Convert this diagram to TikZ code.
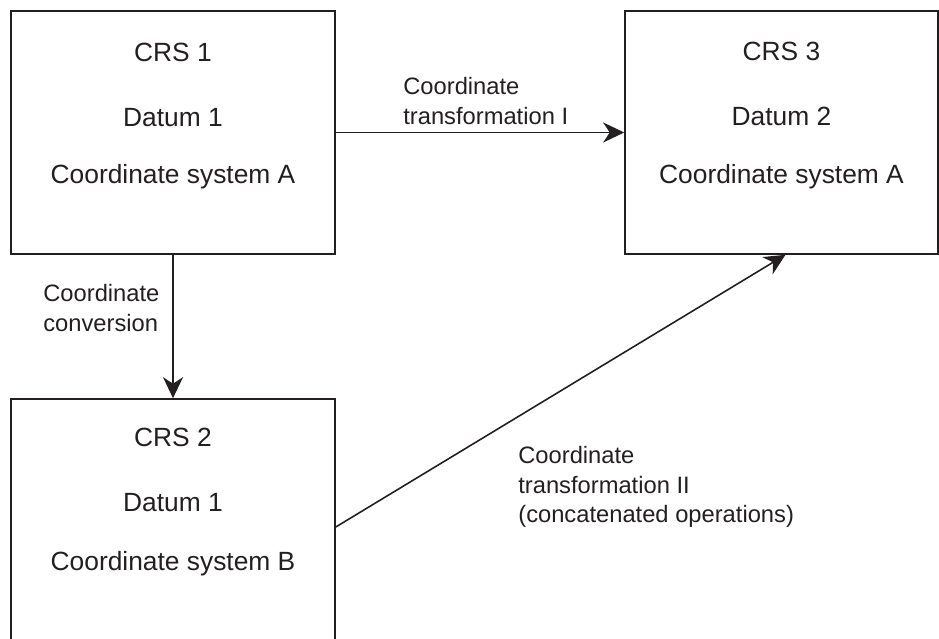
\documentclass[tikz,border=0pt]{standalone}
\usepackage{fontspec}
\setmainfont{Liberation Sans}
\usetikzlibrary{arrows.meta,positioning}
\definecolor{ink}{HTML}{231F20}
\tikzset{
  crsbox/.style={draw=ink, line width=0.9pt, minimum width=6.48cm, inner sep=0pt},
  boxtext/.style={anchor=base, text=ink, inner sep=0pt},
  oplabel/.style={anchor=north west, align=left, text=ink, inner sep=0pt,
    font=\fontsize{13.5}{16.8}\selectfont},
  conn/.style={draw=ink, line width=0.9pt, -{Stealth[length=0.42cm,width=0.4cm,inset=0.13cm]}},
}
\begin{document}
\begin{tikzpicture}[font=\fontsize{15}{17}\selectfont]
\useasboundingbox (0,0) rectangle (18.78,12.78);
\clip (0,0) rectangle (18.78,12.78);
% the three reference systems
\node[crsbox, minimum height=4.86cm] (crs1) at (3.46,10.13) {};
\node[crsbox, minimum width=6.26cm, minimum height=4.86cm] (crs3) at (15.63,10.13) {};
\node[crsbox, minimum height=5.12cm] (crs2) at (3.46,2.24) {};
\node[boxtext] (crs1-name) at ([yshift=-1.02cm]crs1.north) {CRS 1};
\node[boxtext] (crs1-datum) at ([yshift=-2.32cm]crs1.north) {Datum 1};
\node[boxtext] (crs1-cs) at ([yshift=-3.47cm]crs1.north) {Coordinate system A};
\node[boxtext] (crs3-name) at ([yshift=-1.0cm]crs3.north) {CRS 3};
\node[boxtext] (crs3-datum) at ([yshift=-2.3cm]crs3.north) {Datum 2};
\node[boxtext] (crs3-cs) at ([yshift=-3.46cm]crs3.north) {Coordinate system A};
\node[boxtext] (crs2-name) at ([yshift=-0.97cm]crs2.north) {CRS 2};
\node[boxtext] (crs2-datum) at ([yshift=-2.27cm]crs2.north) {Datum 1};
\node[boxtext] (crs2-cs) at ([yshift=-3.44cm]crs2.north) {Coordinate system B};
% operations
\draw[conn] (crs1) -- (crs3);
\draw[conn] (crs1) -- (crs2);
\draw[conn] (crs2.east) -- ([xshift=0.08cm]crs3.south);
\node[oplabel] (trans1) at (8.06,11.24) {Coordinate\\transformation I};
\node[oplabel] (conv) at (0.86,7.1) {Coordinate\\conversion};
\node[oplabel] (trans2) at (10.36,3.86) {Coordinate\\transformation II\\(concatenated operations)};
\end{tikzpicture}
\end{document}
